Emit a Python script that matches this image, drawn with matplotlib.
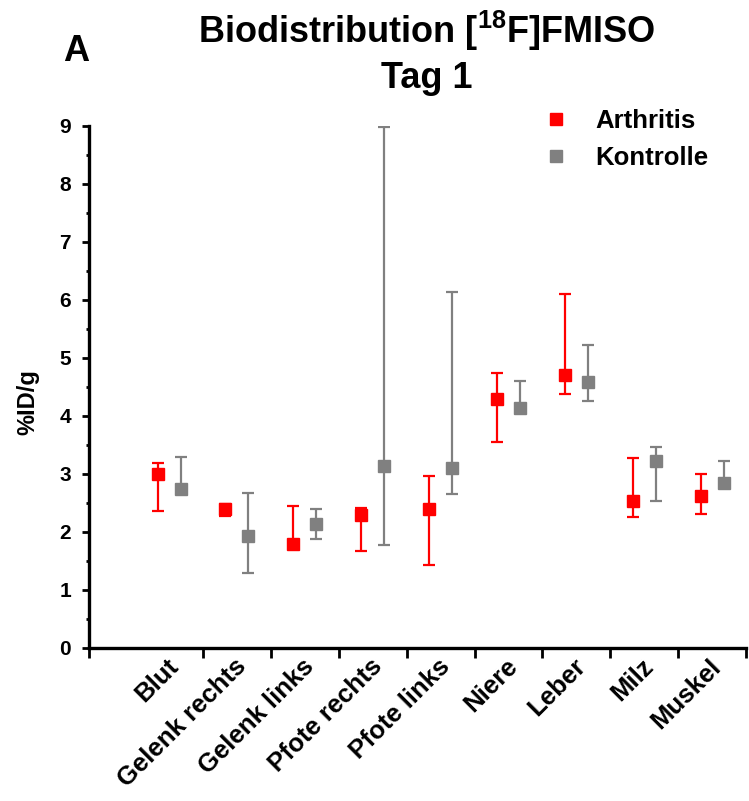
from matplotlib import pyplot as plt
from matplotlib.lines import Line2D
from matplotlib.ticker import MultipleLocator, FixedLocator
from matplotlib.transforms import ScaledTranslation
import numpy as np

plt.rcParams['font.family'] = ['Liberation Sans', 'DejaVu Sans']
plt.rcParams['font.weight'] = 'bold'
plt.rcParams['axes.labelweight'] = 'bold'
plt.rcParams['mathtext.fontset'] = 'custom'
plt.rcParams['mathtext.bf'] = 'Liberation Sans:bold'
plt.rcParams['mathtext.rm'] = 'Liberation Sans:bold'

organs = ['Blut', 'Gelenk rechts', 'Gelenk links', 'Pfote rechts', 'Pfote links',
          'Niere', 'Leber', 'Milz', 'Muskel']

arthritis_mean = [2.99, 2.39, 1.79, 2.29, 2.39, 4.29, 4.70, 2.53, 2.61]
arthritis_upper = [3.18, 2.48, 2.44, 2.41, 2.95, 4.73, 6.09, 3.26, 3.00]
arthritis_lower = [2.36, 2.26, 1.75, 1.67, 1.43, 3.55, 4.37, 2.25, 2.30]

kontrolle_mean = [2.73, 1.92, 2.13, 3.13, 3.09, 4.13, 4.58, 3.22, 2.83]
kontrolle_upper = [3.28, 2.66, 2.39, 8.98, 6.14, 4.59, 5.22, 3.46, 3.21]
kontrolle_lower = [2.66, 1.28, 1.87, 1.77, 2.64, 4.04, 4.26, 2.53, 2.78]

fig = plt.figure(figsize=(7.49, 8.01), dpi=100)
ax = fig.add_axes([89 / 749, 153.5 / 801, 657 / 749, 521.8 / 801])

x = np.arange(len(organs))
shift = 0.17
x_left = -1.18

def draw(xpos, mean, lower, upper, color):
    mean = np.array(mean)
    err = [mean - np.array(lower), np.array(upper) - mean]
    ax.errorbar(xpos, mean, yerr=err, fmt='s', color=color, ecolor=color,
                markersize=9.3, elinewidth=1.6, capsize=4.5, capthick=1.6,
                zorder=3)

draw(x - shift, arthritis_mean, arthritis_lower, arthritis_upper, '#ff0000')
draw(x + shift, kontrolle_mean, kontrolle_lower, kontrolle_upper, '#808080')

ax.set_xlim(x_left, 8.5)
ax.set_ylim(0, 9)

for s in ['top', 'right']:
    ax.spines[s].set_visible(False)
for s in ['left', 'bottom']:
    ax.spines[s].set_linewidth(2.4)

ax.yaxis.set_major_locator(MultipleLocator(1))
ax.yaxis.set_minor_locator(MultipleLocator(0.5))
ax.tick_params(axis='y', which='major', length=5, width=2, labelsize=15, pad=8)
ax.tick_params(axis='y', which='minor', length=2.5, width=2)

ax.set_xticks(x)
ax.set_xticklabels(organs, rotation=45, ha='right', va='top', rotation_mode='anchor', fontsize=18.5)
ax.xaxis.set_minor_locator(FixedLocator(np.r_[x_left, x + 0.5]))
ax.tick_params(axis='x', which='major', length=0, pad=5)
ax.tick_params(axis='x', which='minor', length=7, width=2)
nudge = ScaledTranslation(-3 / 100, 0, fig.dpi_scale_trans)
for lab in ax.get_xticklabels():
    lab.set_transform(lab.get_transform() + nudge)

ax.set_ylabel('%ID/g', fontsize=17)
ax.yaxis.set_label_coords(-0.075, 0.47)

fig.text(0.57, 0.962, r'Biodistribution [$\mathbf{^{18}}$F]FMISO', ha='center', va='center',
         fontsize=26)
fig.text(0.57, 0.902, 'Tag 1', ha='center', va='center', fontsize=26)
fig.text(0.102, 0.936, 'A', ha='center', va='center', fontsize=26)

handles = [Line2D([], [], marker='s', color='#ff0000', ls='none', markersize=8.3),
           Line2D([], [], marker='s', color='#808080', ls='none', markersize=8.3)]
ax.legend(handles, ['Arthritis', 'Kontrolle'], loc='upper left',
          bbox_to_anchor=(546 / 749, 1 - 109 / 801), bbox_transform=fig.transFigure,
          frameon=False, fontsize=18.5, borderpad=0, borderaxespad=0,
          handlelength=0.8, handletextpad=1.13, labelspacing=0.5)

fig.savefig('out.png', dpi=100)
